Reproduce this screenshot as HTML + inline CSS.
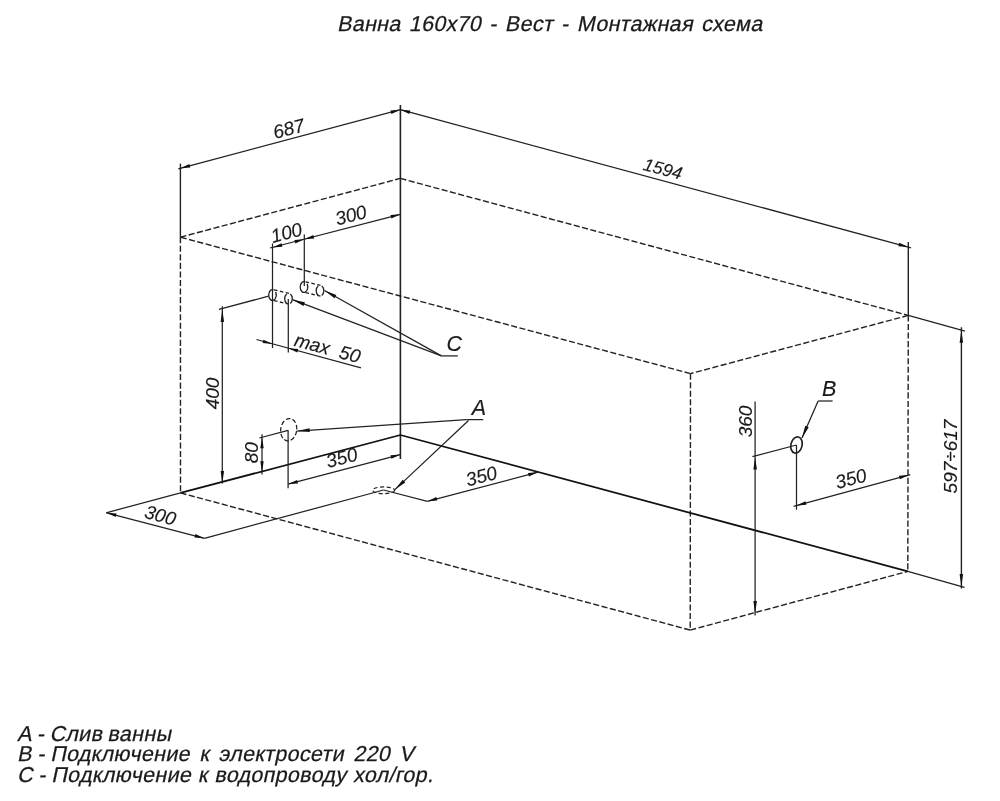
<!DOCTYPE html>
<html><head><meta charset="utf-8"><title>Ванна 160х70 - Вест - Монтажная схема</title>
<style>
html,body{margin:0;padding:0;background:#fff}
.gray{position:absolute;left:0;top:0;width:1000px;height:801px;will-change:transform;opacity:.999}
body{width:1000px;height:801px;position:relative;overflow:hidden;font-family:"Liberation Sans",sans-serif;font-style:italic;color:#1a1a1a;-webkit-text-stroke:0.25px #1a1a1a}
svg{position:absolute;left:0;top:0}
svg text{font-family:"Liberation Sans",sans-serif;font-style:italic;fill:#1a1a1a;stroke:#1a1a1a;stroke-width:0.15px;-webkit-text-stroke:0}
.title{position:absolute;left:337px;top:11.5px;font-size:21.5px;letter-spacing:0.3px;word-spacing:1.9px;white-space:nowrap;line-height:24px;font-style:normal;transform:skewX(-12deg);transform-origin:0 19px}
.legend{position:absolute;left:17px;top:724px;font-size:21.5px;letter-spacing:0.3px;word-spacing:0.6px;line-height:20.4px;white-space:nowrap;font-style:normal}
.legend div{transform:skewX(-12deg);transform-origin:0 17px}
</style></head><body><div class="gray">
<div class="title">Ванна 160х70 - Вест - Монтажная схема</div>
<svg width="1000" height="801" viewBox="0 0 1000 801">
<line x1="180.4" y1="237.2" x2="400.4" y2="178.4" stroke="#222" stroke-width="1.4" stroke-dasharray="6.1 2.45"/>
<line x1="400.4" y1="178.4" x2="908.3" y2="315.4" stroke="#222" stroke-width="1.4" stroke-dasharray="6.1 2.45"/>
<line x1="908.3" y1="315.4" x2="690.5" y2="373.6" stroke="#222" stroke-width="1.4" stroke-dasharray="6.1 2.45"/>
<line x1="690.5" y1="373.6" x2="180.4" y2="237.2" stroke="#222" stroke-width="1.4" stroke-dasharray="6.1 2.45"/>
<line x1="180.4" y1="237.2" x2="180.5" y2="492.9" stroke="#222" stroke-width="1.4" stroke-dasharray="6.1 2.45"/>
<line x1="690.5" y1="373.6" x2="690.2" y2="630.1" stroke="#222" stroke-width="1.4" stroke-dasharray="6.1 2.45"/>
<line x1="908.3" y1="315.4" x2="907.8" y2="571.4" stroke="#222" stroke-width="1.4" stroke-dasharray="6.1 2.45"/>
<line x1="180.5" y1="492.9" x2="690.2" y2="630.1" stroke="#222" stroke-width="1.4" stroke-dasharray="6.1 2.45"/>
<line x1="690.2" y1="630.1" x2="907.8" y2="571.4" stroke="#222" stroke-width="1.4" stroke-dasharray="6.1 2.45"/>
<line x1="400.4" y1="105.0" x2="400.4" y2="459.0" stroke="#222" stroke-width="1.6"/>
<line x1="180.5" y1="492.9" x2="400.4" y2="435.0" stroke="#111" stroke-width="1.75"/>
<line x1="400.4" y1="435.0" x2="907.8" y2="571.4" stroke="#111" stroke-width="1.75"/>
<line x1="180.4" y1="163.6" x2="180.4" y2="237.2" stroke="#222" stroke-width="1.4"/>
<line x1="908.3" y1="242.0" x2="908.3" y2="315.3" stroke="#222" stroke-width="1.4"/>
<line x1="178.3" y1="168.8" x2="400.4" y2="109.7" stroke="#222" stroke-width="1.25"/>
<polygon points="180.4,168.2 189.4,163.9 190.3,167.4" fill="#111"/>
<polygon points="400.4,109.7 391.4,114.0 390.5,110.5" fill="#111"/>
<text x="290.3" y="135.0" font-size="19" text-anchor="middle" transform="rotate(-14.6 290.3 135.0)">687</text>
<line x1="400.4" y1="109.7" x2="911.0" y2="247.8" stroke="#222" stroke-width="1.25"/>
<polygon points="400.4,109.7 410.3,110.5 409.4,114.0" fill="#111"/>
<polygon points="908.3,247.1 898.4,246.3 899.3,242.8" fill="#111"/>
<text x="661.3" y="174.8" font-size="17.8" text-anchor="middle" transform="rotate(15 661.3 174.8)">1594</text>
<line x1="908.3" y1="315.4" x2="965.0" y2="331.2" stroke="#222" stroke-width="1.25"/>
<line x1="907.8" y1="571.4" x2="964.5" y2="587.3" stroke="#222" stroke-width="1.25"/>
<line x1="961.4" y1="327.2" x2="961.4" y2="588.5" stroke="#222" stroke-width="1.4"/>
<polygon points="961.4,330.4 963.1,342.8 959.6,342.8" fill="#111"/>
<polygon points="961.4,586.4 959.6,574.0 963.1,574.0" fill="#111"/>
<text x="957.0" y="456.5" font-size="19" text-anchor="middle" transform="rotate(-90 957.0 456.5)">597÷617</text>
<line x1="270.0" y1="248.0" x2="400.4" y2="214.3" stroke="#222" stroke-width="1.25"/>
<polygon points="400.4,214.3 391.4,218.5 390.5,215.0" fill="#111"/>
<polygon points="304.3,239.2 313.3,235.0 314.2,238.5" fill="#111"/>
<polygon points="304.3,239.2 295.3,243.4 294.4,239.9" fill="#111"/>
<polygon points="272.5,247.5 281.5,243.3 282.4,246.8" fill="#111"/>
<text x="352.5" y="221.5" font-size="19" text-anchor="middle" transform="rotate(-14.6 352.5 221.5)">300</text>
<text x="288.0" y="239.0" font-size="19" text-anchor="middle" transform="rotate(-14.6 288.0 239.0)">100</text>
<line x1="272.5" y1="243.5" x2="272.5" y2="348.0" stroke="#222" stroke-width="1.25"/>
<line x1="304.3" y1="234.5" x2="304.3" y2="286.0" stroke="#222" stroke-width="1.25"/>
<line x1="288.3" y1="299.0" x2="288.3" y2="352.5" stroke="#222" stroke-width="1.25"/>
<path d="M275.61,291.90 A3.8,5.4 0 1 1 273.48,289.78" fill="none" stroke="#222" stroke-width="1.3"/>
<path d="M290.28,294.03 A3.8,5.4 0 0 1 290.28,303.57" fill="none" stroke="#222" stroke-width="1.3"/>
<path d="M286.72,303.57 A3.8,5.4 0 0 1 286.72,294.03" fill="none" stroke="#222" stroke-width="1.3"/>
<line x1="274.0" y1="289.8" x2="289.0" y2="293.4" stroke="#222" stroke-width="1.3" stroke-dasharray="3.6 2.4"/>
<line x1="274.0" y1="300.6" x2="289.0" y2="304.2" stroke="#222" stroke-width="1.3" stroke-dasharray="3.6 2.4"/>
<path d="M307.11,283.90 A3.8,5.4 0 1 1 304.98,281.78" fill="none" stroke="#222" stroke-width="1.3"/>
<path d="M321.78,286.03 A3.8,5.4 0 0 1 321.78,295.57" fill="none" stroke="#222" stroke-width="1.3"/>
<path d="M318.22,295.57 A3.8,5.4 0 0 1 318.22,286.03" fill="none" stroke="#222" stroke-width="1.3"/>
<line x1="305.5" y1="281.8" x2="320.5" y2="285.4" stroke="#222" stroke-width="1.3" stroke-dasharray="3.6 2.4"/>
<line x1="305.5" y1="292.6" x2="320.5" y2="296.2" stroke="#222" stroke-width="1.3" stroke-dasharray="3.6 2.4"/>
<line x1="256.5" y1="339.5" x2="361.0" y2="367.8" stroke="#222" stroke-width="1.25"/>
<polygon points="272.5,344.0 262.6,343.1 263.5,339.7" fill="#111"/>
<polygon points="288.3,348.3 298.2,349.1 297.3,352.6" fill="#111"/>
<text x="325.8" y="354.5" font-size="19" text-anchor="middle" transform="rotate(15.2 325.8 354.5)">max&#160;&#160;50</text>
<line x1="219.0" y1="309.3" x2="268.5" y2="296.2" stroke="#222" stroke-width="1.25"/>
<line x1="222.3" y1="306.2" x2="222.3" y2="483.5" stroke="#222" stroke-width="1.25"/>
<polygon points="222.3,309.5 224.1,321.9 220.6,321.9" fill="#111"/>
<polygon points="222.3,483.3 220.6,470.9 224.1,470.9" fill="#111"/>
<text x="219.0" y="393.5" font-size="19" text-anchor="middle" transform="rotate(-90 219.0 393.5)">400</text>
<text x="454.3" y="351.0" font-size="21.5" text-anchor="middle" transform="rotate(0 454.3 351.0)">C</text>
<line x1="441.4" y1="355.9" x2="457.8" y2="355.9" stroke="#222" stroke-width="1.25"/>
<line x1="441.4" y1="355.9" x2="324.5" y2="290.5" stroke="#222" stroke-width="1.25"/>
<polygon points="324.5,290.5 336.3,294.9 334.5,298.2" fill="#111"/>
<line x1="441.4" y1="355.9" x2="292.5" y2="299.7" stroke="#222" stroke-width="1.25"/>
<polygon points="292.5,299.7 304.9,302.3 303.5,305.9" fill="#111"/>
<line x1="259.3" y1="438.0" x2="288.1" y2="430.3" stroke="#222" stroke-width="1.25"/>
<line x1="262.0" y1="434.3" x2="262.0" y2="474.5" stroke="#222" stroke-width="1.25"/>
<polygon points="262.0,437.3 263.7,448.3 260.3,448.3" fill="#111"/>
<polygon points="262.0,472.3 260.3,461.3 263.7,461.3" fill="#111"/>
<text x="258.0" y="452.7" font-size="19" text-anchor="middle" transform="rotate(-90 258.0 452.7)">80</text>
<ellipse cx="288.7" cy="429.7" rx="8.0" ry="11.2" fill="none" stroke="#222" stroke-width="1.25" stroke-dasharray="4.6 2.2" transform="rotate(8 288.7 429.7)"/>
<line x1="288.1" y1="430.3" x2="288.1" y2="488.3" stroke="#222" stroke-width="1.25"/>
<line x1="288.1" y1="484.1" x2="400.4" y2="454.6" stroke="#222" stroke-width="1.25"/>
<polygon points="288.1,484.1 297.1,479.9 298.0,483.4" fill="#111"/>
<polygon points="400.4,454.6 391.4,458.8 390.5,455.3" fill="#111"/>
<text x="343.3" y="464.1" font-size="19" text-anchor="middle" transform="rotate(-14.6 343.3 464.1)">350</text>
<text x="479.0" y="415.3" font-size="21.5" text-anchor="middle" transform="rotate(0 479.0 415.3)">A</text>
<line x1="466.4" y1="419.6" x2="483.2" y2="419.6" stroke="#222" stroke-width="1.25"/>
<line x1="466.4" y1="419.6" x2="297.2" y2="431.1" stroke="#222" stroke-width="1.25"/>
<polygon points="297.2,431.1 309.5,428.3 309.8,432.1" fill="#111"/>
<line x1="468.5" y1="420.5" x2="394.9" y2="489.6" stroke="#222" stroke-width="1.25"/>
<polygon points="394.9,489.6 402.7,479.7 405.3,482.4" fill="#111"/>
<ellipse cx="383.7" cy="490.3" rx="11" ry="3.4" fill="none" stroke="#222" stroke-width="1.2" stroke-dasharray="4 2.5"/>
<line x1="383.6" y1="490.0" x2="204.4" y2="538.3" stroke="#222" stroke-width="1.25"/>
<line x1="383.6" y1="490.0" x2="427.4" y2="501.3" stroke="#222" stroke-width="1.25"/>
<line x1="180.5" y1="492.9" x2="106.1" y2="512.8" stroke="#222" stroke-width="1.25"/>
<line x1="106.7" y1="512.8" x2="204.4" y2="538.3" stroke="#222" stroke-width="1.25"/>
<polygon points="106.7,512.8 116.6,513.5 115.7,517.0" fill="#111"/>
<polygon points="204.4,538.3 194.5,537.6 195.4,534.1" fill="#111"/>
<text x="158.7" y="521.7" font-size="19" text-anchor="middle" transform="rotate(15 158.7 521.7)">300</text>
<line x1="427.4" y1="501.3" x2="537.9" y2="472.2" stroke="#222" stroke-width="1.25"/>
<polygon points="427.4,501.3 436.4,497.1 437.3,500.5" fill="#111"/>
<polygon points="537.9,472.2 528.9,476.4 528.0,473.0" fill="#111"/>
<text x="483.0" y="482.5" font-size="19" text-anchor="middle" transform="rotate(-14.6 483.0 482.5)">350</text>
<text x="829.1" y="396.3" font-size="21.5" text-anchor="middle" transform="rotate(0 829.1 396.3)">B</text>
<line x1="818.1" y1="401.0" x2="832.6" y2="401.0" stroke="#222" stroke-width="1.25"/>
<line x1="818.1" y1="401.0" x2="802.0" y2="438.0" stroke="#222" stroke-width="1.25"/>
<polygon points="802.0,438.0 805.2,425.8 808.7,427.3" fill="#111"/>
<ellipse cx="796.5" cy="445" rx="5.6" ry="8.2" fill="none" stroke="#222" stroke-width="1.7" transform="rotate(14 796.5 445)"/>
<line x1="796.5" y1="445.0" x2="752.4" y2="456.7" stroke="#222" stroke-width="1.25"/>
<line x1="755.1" y1="401.4" x2="755.1" y2="615.5" stroke="#222" stroke-width="1.25"/>
<polygon points="755.1,457.0 756.9,469.4 753.4,469.4" fill="#111"/>
<polygon points="755.1,613.4 753.4,601.0 756.9,601.0" fill="#111"/>
<text x="752.0" y="421.5" font-size="19" text-anchor="middle" transform="rotate(-90 752.0 421.5)">360</text>
<line x1="796.5" y1="445.0" x2="796.5" y2="509.7" stroke="#222" stroke-width="1.25"/>
<line x1="793.6" y1="506.3" x2="910.3" y2="474.6" stroke="#222" stroke-width="1.25"/>
<polygon points="796.5,505.5 805.5,501.2 806.4,504.7" fill="#111"/>
<polygon points="908.9,475.0 899.9,479.3 899.0,475.8" fill="#111"/>
<text x="852.5" y="485.0" font-size="19" text-anchor="middle" transform="rotate(-14.6 852.5 485.0)">350</text>
</svg>
<div class="legend"><div style="word-spacing:-1.1px">А - Слив ванны</div><div style="word-spacing:3.1px"><span style="word-spacing:-0.75px">В - </span>Подключение к электросети 220 V</div><div style="word-spacing:0.5px"><span style="word-spacing:-0.75px">С - </span>Подключение к водопроводу хол/гор.</div></div>
</div></body></html>
